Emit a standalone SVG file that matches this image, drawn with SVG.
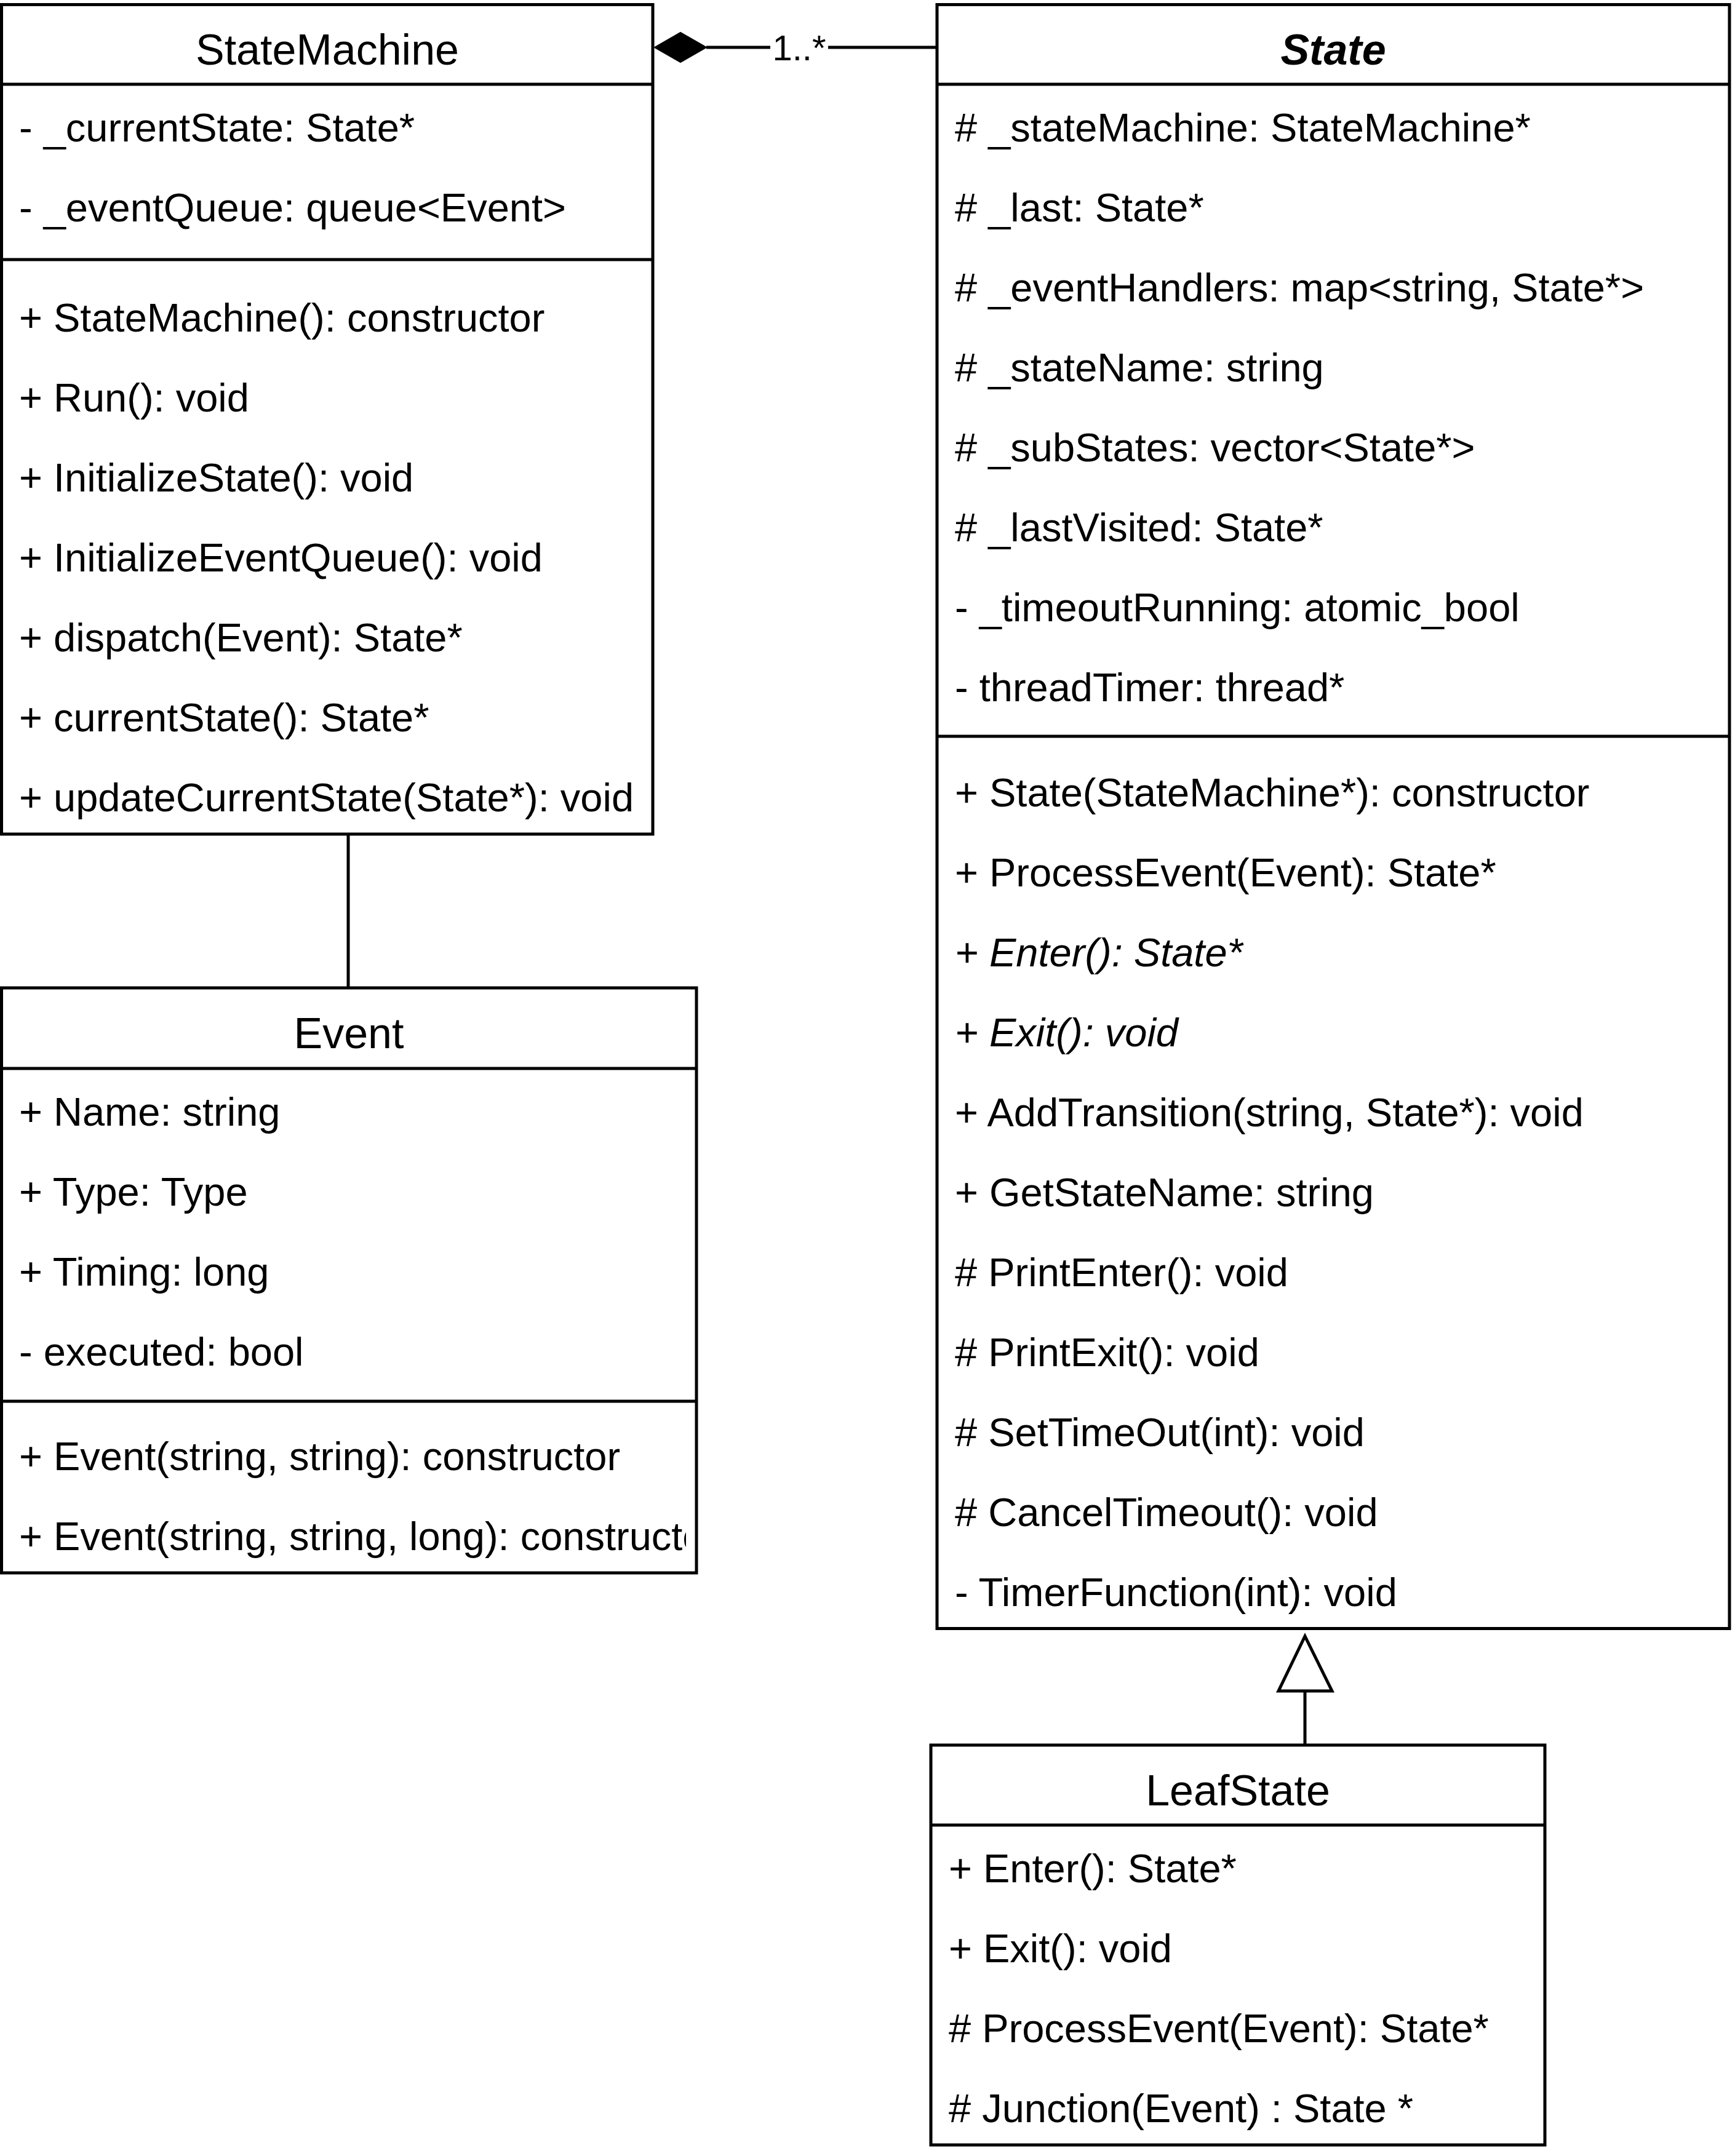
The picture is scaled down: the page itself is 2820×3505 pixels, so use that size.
<svg xmlns="http://www.w3.org/2000/svg" width="2820" height="3505" viewBox="0 0 2820 3505">
  <style>
    .box { fill: #ffffff; stroke: #000000; stroke-width: 5; }
    .div { stroke: #000000; stroke-width: 5; fill: none; }
    .edge { stroke: #000000; stroke-width: 5; fill: none; }
    text { font-family: "Liberation Sans", Arial, Helvetica, sans-serif; fill: #000000; }
    .title { font-size: 70px; text-anchor: middle; }
    .row { font-size: 65px; }
    .abstract { font-style: italic; }
    .label { font-size: 58px; text-anchor: middle; }
  </style>
  <defs>
    <clipPath id="eventClip">
      <rect x="5" y="1606" width="1110" height="951"/>
    </clipPath>
  </defs>
  <rect x="0" y="0" width="2820" height="3505" fill="#ffffff"/>

  <!-- relationships -->
  <g id="connectors">
    <!-- StateMachine composes 1..* State -->
    <line class="edge" x1="1148" y1="77" x2="1521" y2="77"/>
    <polygon points="1064,77 1106,53 1148,77 1106,101" fill="#000000" stroke="#000000" stroke-width="2"/>
    <rect x="1252" y="48" width="94" height="58" fill="#ffffff"/>
    <text class="label" x="1299" y="98">1..*</text>
    <!-- StateMachine uses Event -->
    <line class="edge" x1="566" y1="1356" x2="566" y2="1606"/>
    <!-- LeafState extends State -->
    <line class="edge" x1="2121" y1="2837" x2="2121" y2="2749"/>
    <polygon points="2121,2660 2078,2749 2165,2749" fill="#ffffff" stroke="#000000" stroke-width="5"/>
  </g>

  <g id="StateMachine">
    <rect class="box" x="2.5" y="7.5" width="1058.5" height="1348.5"/>
    <line class="div" x1="2.5" y1="137" x2="1061" y2="137"/>
    <line class="div" x1="2.5" y1="422" x2="1061" y2="422"/>
    <text class="title" x="532" y="105">StateMachine</text>
    <text class="row" x="31" y="230">- _currentState: State*</text>
    <text class="row" x="31" y="360">- _eventQueue: queue&lt;Event&gt;</text>
    <text class="row" x="31" y="539">+ StateMachine(): constructor</text>
    <text class="row" x="31" y="669">+ Run(): void</text>
    <text class="row" x="31" y="799">+ InitializeState(): void</text>
    <text class="row" x="31" y="929">+ InitializeEventQueue(): void</text>
    <text class="row" x="31" y="1059">+ dispatch(Event): State*</text>
    <text class="row" x="31" y="1189">+ currentState(): State*</text>
    <text class="row" x="31" y="1319">+ updateCurrentState(State*): void</text>
  </g>

  <g id="Event">
    <rect class="box" x="2.5" y="1606" width="1129.5" height="951"/>
    <line class="div" x1="2.5" y1="1737" x2="1132" y2="1737"/>
    <line class="div" x1="2.5" y1="2278" x2="1132" y2="2278"/>
    <text class="title" x="567" y="1704">Event</text>
    <text class="row" x="31" y="1830">+ Name: string</text>
    <text class="row" x="31" y="1960">+ Type: Type</text>
    <text class="row" x="31" y="2090">+ Timing: long</text>
    <text class="row" x="31" y="2220">- executed: bool</text>
    <g clip-path="url(#eventClip)">
      <text class="row" x="31" y="2390">+ Event(string, string): constructor</text>
      <text class="row" x="31" y="2520">+ Event(string, string, long): constructor</text>
    </g>
  </g>

  <g id="State">
    <rect class="box" x="1523" y="7.5" width="1288" height="2640"/>
    <line class="div" x1="1523" y1="137" x2="2811" y2="137"/>
    <line class="div" x1="1523" y1="1197" x2="2811" y2="1197"/>
    <text class="title" x="2167" y="105" font-weight="bold" font-style="italic">State</text>
    <text class="row" x="1552" y="230"># _stateMachine: StateMachine*</text>
    <text class="row" x="1552" y="360"># _last: State*</text>
    <text class="row" x="1552" y="490"># _eventHandlers: map&lt;string, State*&gt;</text>
    <text class="row" x="1552" y="620"># _stateName: string</text>
    <text class="row" x="1552" y="750"># _subStates: vector&lt;State*&gt;</text>
    <text class="row" x="1552" y="880"># _lastVisited: State*</text>
    <text class="row" x="1552" y="1010">- _timeoutRunning: atomic_bool</text>
    <text class="row" x="1552" y="1140">- threadTimer: thread*</text>
    <text class="row" x="1552" y="1311">+ State(StateMachine*): constructor</text>
    <text class="row" x="1552" y="1441">+ ProcessEvent(Event): State*</text>
    <text class="row abstract" x="1552" y="1571">+ Enter(): State*</text>
    <text class="row abstract" x="1552" y="1701">+ Exit(): void</text>
    <text class="row" x="1552" y="1831">+ AddTransition(string, State*): void</text>
    <text class="row" x="1552" y="1961">+ GetStateName: string</text>
    <text class="row" x="1552" y="2091"># PrintEnter(): void</text>
    <text class="row" x="1552" y="2221"># PrintExit(): void</text>
    <text class="row" x="1552" y="2351"># SetTimeOut(int): void</text>
    <text class="row" x="1552" y="2481"># CancelTimeout(): void</text>
    <text class="row" x="1552" y="2611">- TimerFunction(int): void</text>
  </g>

  <g id="LeafState">
    <rect class="box" x="1513" y="2837" width="998" height="650"/>
    <line class="div" x1="1513" y1="2967" x2="2511" y2="2967"/>
    <text class="title" x="2012" y="2935">LeafState</text>
    <text class="row" x="1542" y="3060">+ Enter(): State*</text>
    <text class="row" x="1542" y="3190">+ Exit(): void</text>
    <text class="row" x="1542" y="3320"># ProcessEvent(Event): State*</text>
    <text class="row" x="1542" y="3450"># Junction(Event) : State *</text>
  </g>
</svg>
